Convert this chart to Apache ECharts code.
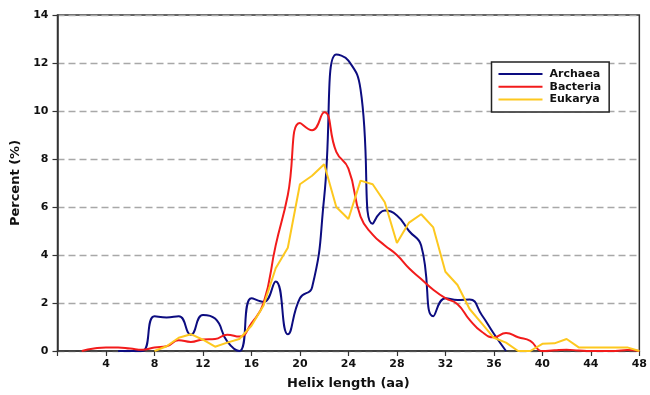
<!DOCTYPE html>
<html>
<head>
<meta charset="utf-8">
<script src="https://cdn.jsdelivr.net/npm/echarts@6/dist/echarts.min.js"></script>
<style>
  html, body { margin: 0; padding: 0; background: #fff; }
  #chart { width: 650px; height: 395px; }
</style>
</head>
<body>
<div id="chart"></div>
<script>
// helix length (aa), one entry per data column
const helixLengths = [0, 1, 2, 3, 4, 5, 6, 7, 8, 9, 10, 11, 12, 13, 14, 15, 16, 17, 18, 19, 20, 21, 22, 23, 24,
  25, 26, 27, 28, 29, 30, 31, 32, 33, 34, 35, 36, 37, 38, 39, 40, 41, 42, 43, 44, 45, 46, 47, 48];

// percent values (null = no point)
const archaea = [null, null, null, null, null, 0, 0, 0, 1.45, 1.4, 1.45, 0.68, 1.5, 1.35, 0.4, 0, 2.2, 2.05, 2.9, 0.7, 2.2, 2.65, 6.4, 12.35, 12.1,
  10.9, 5.3, 5.85, 5.65, 5.0, 4.4, 1.45, 2.2, 2.12, 2.15, 1.5, 0.72, 0, null, null, null, null, null, null, null, null, null, null, null];
const bacteria = [null, null, 0, 0.1, 0.15, 0.15, 0.1, 0.05, 0.15, 0.2, 0.45, 0.38, 0.48, 0.5, 0.68, 0.6, 1.15, 2.0, 4.4, 6.5, 9.5, 9.2, 9.95, 8.3, 7.6,
  5.6, 4.85, 4.4, 4.0, 3.45, 3.0, 2.55, 2.2, 1.95, 1.3, 0.8, 0.57, 0.75, 0.57, 0.42, 0, 0.03, 0.05, 0.02, 0, 0, 0, 0.04, 0];
const eukarya = [null, null, null, null, null, null, null, null, 0, 0.2, 0.55, 0.7, 0.47, 0.18, 0.35, 0.5, 1.05, 1.9, 3.45, 4.3, 6.95, 7.3, 7.78, 6.0, 5.5,
  7.1, 6.95, 6.2, 4.5, 5.35, 5.7, 5.15, 3.3, 2.75, 1.75, 1.15, 0.55, 0.35, 0, 0, 0.3, 0.32, 0.5, 0.15, 0.15, 0.15, 0.15, 0.15, 0];

const seriesNames = ['Archaea', 'Bacteria', 'Eukarya'];
const seriesColors = ['#0c0c80', '#f21b1b', '#fdc81f'];

const FONT = 'DejaVu Sans';

const pairs = vals => helixLengths.map((x, i) => [x, vals[i]]);

const chart = echarts.init(document.getElementById('chart'), null, { renderer: 'canvas' });

const option = {
  animation: false,
  backgroundColor: '#fff',
  grid: {
    left: 57.5,
    right: 7,
    top: 15,
    bottom: 42.3,
    show: true,
    borderColor: '#333',
    borderWidth: 1.5,
    backgroundColor: 'transparent'
  },
  legend: {
    orient: 'vertical',
    left: 491.5,
    top: 62,
    itemWidth: 44,
    itemHeight: 11,
    itemGap: 1.7,
    padding: [6.5, 8, 7, 6],
    backgroundColor: '#fff',
    borderColor: '#222',
    borderWidth: 1.5,
    // hide the marker, keep the line sample
    itemStyle: { opacity: 0 },
    lineStyle: { width: 2 },
    textStyle: {
      fontFamily: FONT,
      fontWeight: 'bold',
      fontSize: 11,
      color: '#111',
      padding: [0, 0, 0, 2]
    },
    data: seriesNames
  },
  xAxis: {
    type: 'value',
    min: 0,
    max: 48,
    interval: 4,
    name: 'Helix length (aa)',
    nameLocation: 'middle',
    nameGap: 26,
    nameTextStyle: { fontFamily: FONT, fontWeight: 'bold', fontSize: 13, color: '#111' },
    axisLine: { lineStyle: { color: '#333', width: 1.5 } },
    axisTick: { length: 5, lineStyle: { color: '#333', width: 1.2 } },
    axisLabel: {
      margin: 8,
      fontFamily: FONT,
      fontWeight: 'bold',
      fontSize: 11,
      color: '#111',
      formatter: v => (v === 0 ? '' : v)
    },
    splitLine: { show: false }
  },
  yAxis: {
    type: 'value',
    min: 0,
    max: 14,
    interval: 2,
    name: 'Percent (%)',
    nameLocation: 'middle',
    nameGap: 32,
    nameTextStyle: { fontFamily: FONT, fontWeight: 'bold', fontSize: 13, color: '#111' },
    axisLine: { show: true, lineStyle: { color: '#333', width: 1.5 } },
    axisTick: { show: true, length: 5, lineStyle: { color: '#333', width: 1.2 } },
    axisLabel: { margin: 9, fontFamily: FONT, fontWeight: 'bold', fontSize: 11, color: '#111' },
    splitLine: { show: true, lineStyle: { color: '#a8a8a8', width: 1.4, type: [7, 4] } }
  },
  series: [
    {
      name: 'Archaea',
      type: 'line',
      data: pairs(archaea),
      smooth: 0.5,
      symbol: 'none',
      lineStyle: { color: seriesColors[0], width: 2 },
      itemStyle: { color: seriesColors[0] }
    },
    {
      name: 'Bacteria',
      type: 'line',
      data: pairs(bacteria),
      smooth: 0.5,
      symbol: 'none',
      lineStyle: { color: seriesColors[1], width: 2 },
      itemStyle: { color: seriesColors[1] }
    },
    {
      name: 'Eukarya',
      type: 'line',
      data: pairs(eukarya),
      smooth: false,
      symbol: 'none',
      lineStyle: { color: seriesColors[2], width: 2 },
      itemStyle: { color: seriesColors[2] }
    }
  ]
};

chart.setOption(option);
</script>
</body>
</html>
